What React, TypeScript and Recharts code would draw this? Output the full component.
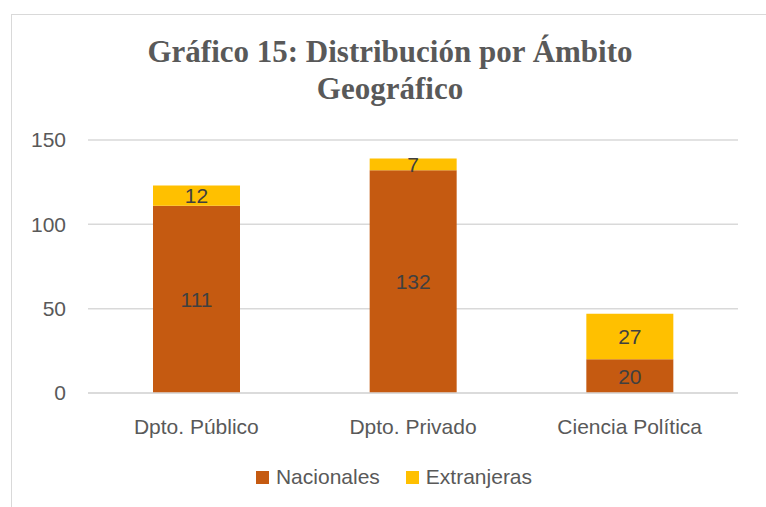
import { BarChart, Bar, XAxis, YAxis, CartesianGrid, LabelList } from "recharts";

const CATEGORIES = ["Dpto. Público", "Dpto. Privado", "Ciencia Política"];
const NACIONALES = [111, 132, 20];
const EXTRANJERAS = [12, 7, 27];
const Y_TICKS = [0, 50, 100, 150];

const data = CATEGORIES.map((name, i) => ({ name, nac: NACIONALES[i], ext: EXTRANJERAS[i] }));

const TEXT = "#595959";
const SANS = "'Liberation Sans', Arial, sans-serif";
const FS = 21;

function LegendBox() {
  const items = [
    { label: "Nacionales", color: "#C55A11" },
    { label: "Extranjeras", color: "#FFC000" },
  ];
  return (
    <div
      style={{
        position: "absolute", left: 0, top: 463, width: 788,
        display: "flex", justifyContent: "center", gap: 26,
        fontFamily: SANS, fontSize: FS, color: TEXT, lineHeight: "28px",
      }}
    >
      {items.map((it) => (
        <div key={it.label} style={{ display: "flex", alignItems: "center" }}>
          <span style={{ width: 13, height: 13, background: it.color, display: "inline-block", marginRight: 7 }} />
          {it.label}
        </div>
      ))}
    </div>
  );
}

export default function App() {
  return (
    <div style={{ position: "absolute", left: 0, top: 0, width: 766, height: 507, overflow: "hidden", background: "#fff" }}>
      <div style={{ position: "absolute", left: 11, top: 14, width: 800, height: 600, border: "1px solid #D9D9D9" }} />
      <div
        style={{
          position: "absolute", left: 0, top: 33, width: 780, textAlign: "center",
          fontFamily: "'Liberation Serif', 'Times New Roman', serif", fontWeight: "bold",
          fontSize: 31, lineHeight: "37px", color: TEXT,
        }}
      >
        Gráfico 15: Distribución por Ámbito<br />Geográfico
      </div>
      <BarChart
        width={766}
        height={507}
        data={data}
        margin={{ top: 140, right: 28, bottom: 0, left: 0 }}
        barCategoryGap="30%"
        style={{ position: "absolute", left: 0, top: 0 }}
      >
        <CartesianGrid vertical={false} stroke="#D9D9D9" strokeWidth={1.5} />
        <XAxis
          dataKey="name"
          tickLine={false}
          axisLine={{ stroke: "#D9D9D9", strokeWidth: 1.5 }}
          tick={{ fill: TEXT, fontSize: FS, fontFamily: SANS }}
          tickMargin={20}
          height={114}
        />
        <YAxis
          domain={[0, 150]}
          ticks={Y_TICKS}
          width={88}
          tickLine={false}
          axisLine={false}
          tickSize={0}
          tickMargin={22}
          tick={{ fill: TEXT, fontSize: FS, fontFamily: SANS }}
        />
        <Bar dataKey="nac" name="Nacionales" stackId="a" fill="#C55A11" isAnimationActive={false}>
          <LabelList dataKey="nac" position="center" fill="#404040" fontSize={FS} fontFamily={SANS} />
        </Bar>
        <Bar dataKey="ext" name="Extranjeras" stackId="a" fill="#FFC000" isAnimationActive={false}>
          <LabelList dataKey="ext" position="center" fill="#404040" fontSize={FS} fontFamily={SANS} />
        </Bar>
      </BarChart>
      <LegendBox />
    </div>
  );
}
